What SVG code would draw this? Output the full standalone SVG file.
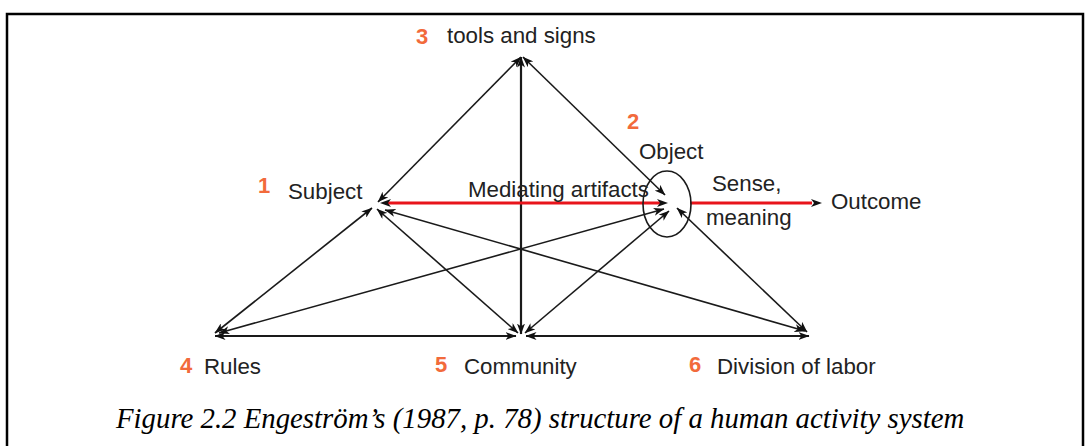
<svg xmlns="http://www.w3.org/2000/svg" width="1088" height="446" viewBox="0 0 1088 446">
<defs>
<marker id="ah" viewBox="0 0 11 8" refX="10.5" refY="4" markerWidth="11" markerHeight="8" markerUnits="userSpaceOnUse" orient="auto-start-reverse">
<path d="M0,0 L11,4 L0,8 L3,4 z" fill="#111"/>
</marker>
</defs>
<style>
.ln{stroke:#1a1a1a;stroke-width:1.6;fill:none;marker-start:url(#ah);marker-end:url(#ah)}
.thick{stroke-width:2.2}
.red{stroke:#e8141b;stroke-width:3.2;fill:none}
.lbl{font-family:"Liberation Sans",Arial,sans-serif;font-size:22.3px;fill:#222}
.num{font-family:"Liberation Sans",Arial,sans-serif;font-size:22px;font-weight:bold;fill:#f26a3b}
.cap{font-family:"Liberation Serif","Times New Roman",serif;font-size:28.8px;font-style:italic;fill:#000}
</style>
<rect x="7" y="14" width="1076" height="460" fill="#fff" stroke="#000" stroke-width="2.5"/>
<g id="connectors">
<line class="ln" x1="521" y1="57" x2="378" y2="202"/>
<line class="ln thick" x1="521" y1="57" x2="521" y2="334"/>
<line class="ln" x1="523" y1="57" x2="665" y2="195"/>
<line class="ln" x1="372" y1="208" x2="215" y2="333"/>
<line class="ln" x1="377" y1="209" x2="518" y2="333"/>
<line class="ln" x1="385" y1="210" x2="805" y2="331"/>
<line class="ln" x1="664" y1="209" x2="219" y2="333"/>
<line class="ln" x1="669" y1="211" x2="525" y2="333"/>
<line class="ln" x1="677" y1="208" x2="807" y2="332"/>
<line class="ln thick" x1="215" y1="336" x2="516" y2="336"/>
<line class="ln thick" x1="526" y1="336" x2="809" y2="336"/>
<line class="red" x1="388" y1="203" x2="660" y2="203"/>
<path d="M380,203 L391,199 L388,203 L391,207 z" fill="#111"/>
<path d="M668,203 L657,199 L660,203 L657,207 z" fill="#111"/>
<line class="red" x1="690" y1="203" x2="812" y2="203"/>
<path d="M822,203 L811,199 L814,203 L811,207 z" fill="#111"/>
</g>
<g id="tools">
<text class="num" x="416" y="44">3</text>
<text class="lbl" x="447" y="43">tools and signs</text>
</g>
<g id="object">
<text class="num" x="627" y="129">2</text>
<text class="lbl" x="639" y="159">Object</text>
<ellipse cx="667" cy="204" rx="24" ry="33" fill="none" stroke="#1a1a1a" stroke-width="1.6"/>
</g>
<g id="subject">
<text class="num" x="258" y="193">1</text>
<text class="lbl" x="288" y="199">Subject</text>
</g>
<g id="mediating">
<text class="lbl" x="468" y="197">Mediating artifacts</text>
</g>
<g id="sense">
<text class="lbl" x="712" y="191">Sense,</text>
<text class="lbl" x="706" y="225">meaning</text>
</g>
<g id="outcome">
<text class="lbl" x="831" y="209">Outcome</text>
</g>
<g id="rules">
<text class="num" x="180" y="373">4</text>
<text class="lbl" x="204" y="374">Rules</text>
</g>
<g id="community">
<text class="num" x="435" y="372">5</text>
<text class="lbl" x="464" y="374">Community</text>
</g>
<g id="division">
<text class="num" x="689" y="372">6</text>
<text class="lbl" x="717" y="374">Division of labor</text>
</g>
<text class="cap" x="116" y="428">Figure 2.2 Engeström’s (1987, p. 78) structure of a human activity system</text>
</svg>
